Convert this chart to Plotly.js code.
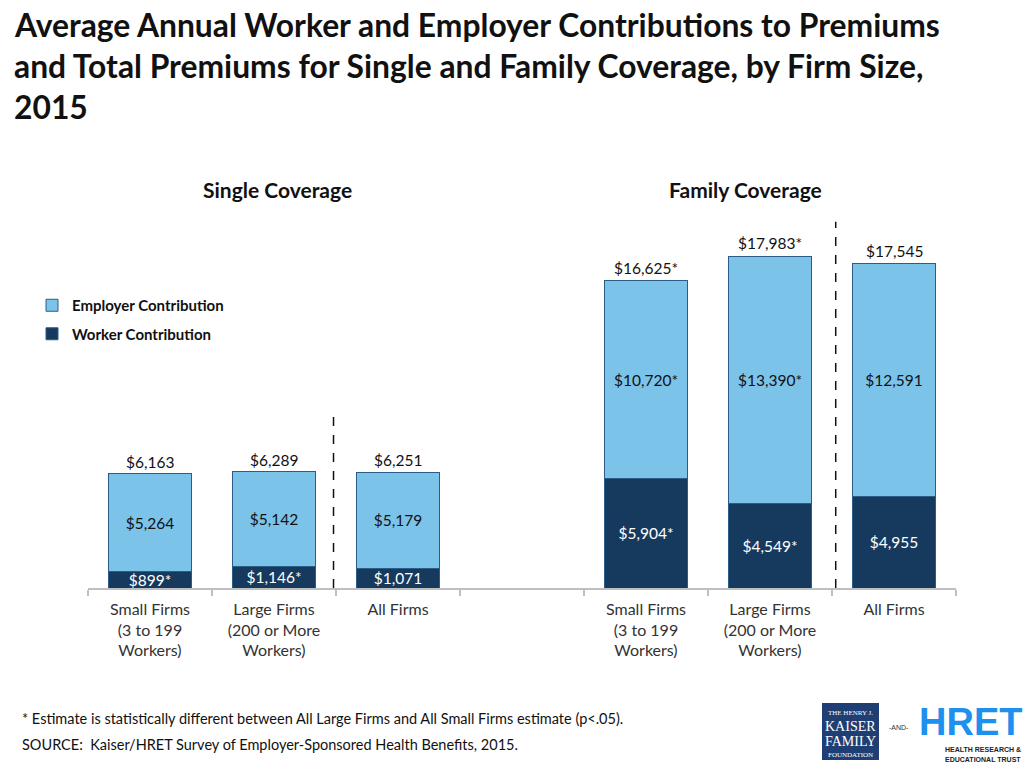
<!DOCTYPE html>
<html>
<head>
<meta charset="utf-8">
<script src="https://cdn.plot.ly/plotly-3.0.1.min.js"></script>
<style>html,body{margin:0;padding:0;background:#fff;}#chart{width:1024px;height:768px;}</style>
</head>
<body>
<div id="chart"></div>
<script>
// ---- data ----
const categories = [
  'Small Firms<br>(3 to 199<br>Workers)',
  'Large Firms<br>(200 or More<br>Workers)',
  'All Firms',
  '',
  'Small Firms<br>(3 to 199<br>Workers)',
  'Large Firms<br>(200 or More<br>Workers)',
  'All Firms'
];
const workerValues   = [899, 1146, 1071, null, 5904, 4549, 4955];
const workerLabels   = ['$899*', '$1,146*', '$1,071', '', '$5,904*', '$4,549*', '$4,955'];
const employerValues = [5264, 5142, 5179, null, 10720, 13390, 12591];
const employerLabels = ['$5,264', '$5,142', '$5,179', '', '$10,720*', '$13,390*', '$12,591'];
const totalValues    = [6163, 6289, 6251, null, 16625, 17983, 17545];
const totalLabels    = ['$6,163', '$6,289', '$6,251', '', '$16,625*', '$17,983*', '$17,545'];
const groupTitles    = ['Single Coverage', 'Family Coverage'];
const seriesNames    = ['Worker Contribution', 'Employer Contribution'];
const titleLines     = [
  'Average Annual Worker and Employer Contributions to Premiums',
  'and Total Premiums for Single and Family Coverage, by Firm Size,',
  '2015'
];
const footnotes      = [
  '* Estimate is statistically different between All Large Firms and All Small Firms estimate (p<.05).',
  'SOURCE:  Kaiser/HRET Survey of Employer-Sponsored Health Benefits, 2015.'
];

// ---- build ----
const xIdx = categories.map((c, i) => i);
const FONT = 'Lato, "Open Sans", sans-serif';
const outline = {color: '#2c5d88', width: 1};

const W = 1024, H = 768, ML = 88, MR = 68, MT = 218, MB = 180;
const PW = W - ML - MR, PH = H - MT - MB;
const px = (X) => (X - ML) / PW, py = (Y) => 1 - (Y - MT) / PH;

const traces = [
  {
    type: 'bar', name: seriesNames[0], legendgroup: 'w', legendrank: 2, x: xIdx, y: workerValues,
    text: workerLabels, textposition: 'inside', insidetextanchor: 'middle',
    constraintext: 'none', textfont: {color: '#ffffff', size: 15.5, family: FONT},
    marker: {color: '#163a5e', line: outline}, hoverinfo: 'none'
  },
  {
    type: 'bar', name: seriesNames[1], legendgroup: 'e', legendrank: 1, x: xIdx, y: employerValues,
    text: employerLabels, textposition: 'inside', insidetextanchor: 'middle',
    constraintext: 'none', textfont: {color: '#111111', size: 15.5, family: FONT},
    marker: {color: '#7cc3ea', line: outline}, hoverinfo: 'none'
  }
];

const annotations = [];
xIdx.forEach((x, i) => {
  if (totalValues[i] == null) return;
  annotations.push({
    x: x, y: totalValues[i], xref: 'x', yref: 'y', text: totalLabels[i],
    showarrow: false, yanchor: 'bottom', yshift: 1,
    font: {size: 15.5, color: '#111111', family: FONT}
  });
});
// title lines
const titleY = [25, 66, 107];
titleLines.forEach((t, i) => annotations.push({
  x: 0, y: py(titleY[i]), xref: 'paper', yref: 'paper', xanchor: 'left', yanchor: 'middle',
  xshift: 12 - ML, text: '<b>' + t + '</b>', showarrow: false,
  font: {size: 31.8, color: '#111', family: FONT}
}));
// group titles
annotations.push({x: 1.03, y: py(190), xref: 'x', yref: 'paper', yanchor: 'middle', text: '<b>' + groupTitles[0] + '</b>',
  showarrow: false, font: {size: 21, color: '#111', family: FONT}});
annotations.push({x: 4.806, y: py(190), xref: 'x', yref: 'paper', yanchor: 'middle', text: '<b>' + groupTitles[1] + '</b>',
  showarrow: false, font: {size: 21, color: '#111', family: FONT}});
// footnotes
const footY = [718, 744];
footnotes.forEach((t, i) => annotations.push({
  x: px(20), y: py(footY[i]), xref: 'paper', yref: 'paper', xanchor: 'left', yanchor: 'middle',
  text: t, showarrow: false, font: {size: 14.5, color: '#111', family: FONT}
}));

// logos (as text + shapes)
const logoTexts = [
  {x: 850, y: 713, text: 'THE HENRY J.', size: 7, color: '#fff', fam: 'Liberation Serif'},
  {x: 850, y: 726, text: 'KAISER', size: 14, color: '#fff', fam: 'Liberation Serif'},
  {x: 850, y: 741, text: 'FAMILY', size: 14, color: '#fff', fam: 'Liberation Serif'},
  {x: 850, y: 755, text: 'FOUNDATION', size: 7, color: '#fff', fam: 'Liberation Serif'},
  {x: 899, y: 727, text: '-AND-', size: 7, color: '#333', fam: 'Liberation Sans'},
  {x: 970, y: 722, text: '<b>HRET</b>', size: 38, color: '#1e90ee', fam: 'Liberation Sans Narrow, Liberation Sans'},
  {x: 983, y: 749, text: '<b>HEALTH RESEARCH &</b>', size: 7, color: '#222', fam: 'Liberation Sans'},
  {x: 983, y: 759, text: '<b>EDUCATIONAL TRUST</b>', size: 7, color: '#222', fam: 'Liberation Sans'}
];
logoTexts.forEach(t => annotations.push({
  x: px(t.x), y: py(t.y), xref: 'paper', yref: 'paper', text: t.text, showarrow: false,
  xanchor: 'center', yanchor: 'middle', font: {size: t.size, color: t.color, family: t.fam}
}));

const shapes = [
  {type: 'line', xref: 'x', yref: 'y', x0: 1.48, x1: 1.48, y0: 0, y1: 9500,
   line: {color: '#111', width: 1.5, dash: 'dash'}},
  {type: 'line', xref: 'x', yref: 'y', x0: 5.53, x1: 5.53, y0: 0, y1: 19800,
   line: {color: '#111', width: 1.5, dash: 'dash'}},
  {type: 'rect', xref: 'paper', yref: 'paper', x0: px(822), x1: px(879), y0: py(760), y1: py(703),
   fillcolor: '#1f3e73', line: {width: 0}, layer: 'below'}
];

const layout = {
  width: W, height: H,
  margin: {l: ML, r: MR, t: MT, b: MB},
  paper_bgcolor: '#ffffff', plot_bgcolor: '#ffffff',
  barmode: 'stack', bargap: 0.33,
  showlegend: true,
  legend: {
    x: px(32), y: py(289), xanchor: 'left', yanchor: 'top',
    traceorder: 'grouped', font: {size: 15, color: '#111', family: FONT, weight: 'bold'},
    itemwidth: 30, tracegroupgap: 6, bgcolor: 'rgba(0,0,0,0)'
  },
  font: {family: FONT},
  xaxis: {
    range: [-0.5, 6.5], tickmode: 'array', tickvals: xIdx, ticktext: categories,
    ticks: '', showgrid: false, zeroline: false,
    showline: true, linecolor: '#bfbfbf', linewidth: 1.5,
    tickfont: {size: 16, color: '#333', family: FONT}, ticklabelstandoff: 6,
    minor: {tickmode: 'array', tickvals: [-0.5, 0.5, 1.5, 2.5, 3.5, 4.5, 5.5, 6.5],
            ticks: 'outside', ticklen: 6, tickcolor: '#bfbfbf', tickwidth: 1.5, showgrid: false},
    fixedrange: true
  },
  yaxis: {range: [0, 20000], visible: false, showgrid: false, zeroline: false, fixedrange: true},
  annotations: annotations,
  shapes: shapes
};

Plotly.newPlot('chart', traces, layout, {staticPlot: true, displayModeBar: false});
</script>
</body>
</html>
